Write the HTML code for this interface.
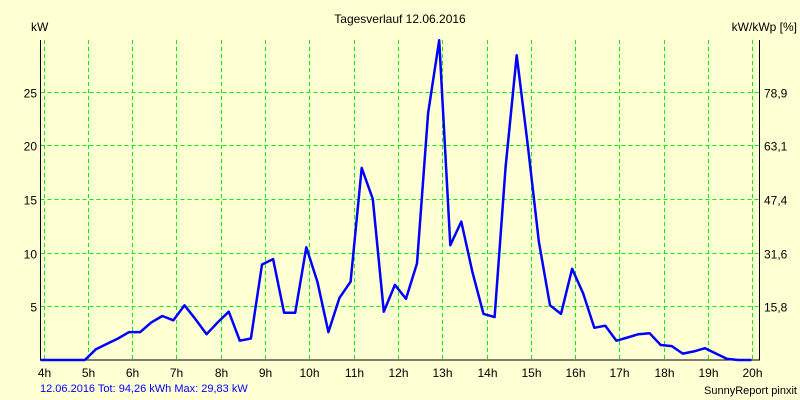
<!DOCTYPE html>
<html><head><meta charset="utf-8"><style>
html,body{margin:0;padding:0;background:#ffffd4;}
svg{display:block;font-family:"Liberation Sans",sans-serif;font-size:12px;}
</style></head><body>
<svg id="chart" width="800" height="400" viewBox="0 0 800 400">
<rect width="800" height="400" fill="#ffffd4"/>
<text x="400" y="23" text-anchor="middle">Tagesverlauf 12.06.2016</text>
<text x="31" y="31">kW</text>
<text x="797" y="31" text-anchor="end">kW/kWp [%]</text>
<g id="grid"></g>
<g id="axes"></g>
<g id="series"></g>
<text x="40" y="392" fill="#0000ff" font-size="11">12.06.2016 Tot: 94,26 kWh Max: 29,83 kW</text>
<text x="797" y="394" text-anchor="end" font-size="11">SunnyReport pinxit</text>
</svg>
<script>
const hourTicks=[4,5,6,7,8,9,10,11,12,13,14,15,16,17,18,19,20];
const kwTicks=[5,10,15,20,25];
const pctLabels=["15,8","31,6","47,4","63,1","78,9"];
const times=[4,4.25,4.5,4.75,5,5.25,5.5,5.75,6,6.25,6.5,6.75,7,7.25,7.5,7.75,8,8.25,8.5,8.75,9,9.25,9.5,9.75,10,10.25,10.5,10.75,11,11.25,11.5,11.75,12,12.25,12.5,12.75,13,13.25,13.5,13.75,14,14.25,14.5,14.75,15,15.25,15.5,15.75,16,16.25,16.5,16.75,17,17.25,17.5,17.75,18,18.25,18.5,18.75,19,19.25,19.5,19.75,20,20.05];
const power=[0,0,0,0,0,1.0,1.5,2.0,2.6,2.6,3.5,4.1,3.7,5.1,3.8,2.4,3.5,4.5,1.8,2.0,8.9,9.4,4.4,4.4,10.5,7.3,2.6,5.8,7.3,17.9,15,4.5,7.0,5.7,9,23,29.8,10.7,12.9,8.2,4.3,4.0,18,28.4,20,11,5.1,4.3,8.5,6.2,3.0,3.2,1.8,2.1,2.4,2.5,1.4,1.3,0.6,0.8,1.1,0.6,0.1,0,0,0];
const NS="http://www.w3.org/2000/svg";
const L=40.5,R=759.5,T=40,B=360;
const xS=h=>43.5+(h-4)*44.3;
const yS=v=>B-v*10.73;
const seriesShift=-3;
function mk(tag,attrs,parent){const e=document.createElementNS(NS,tag);for(const k in attrs)e.setAttribute(k,attrs[k]);parent.appendChild(e);return e;}
const grid=document.getElementById('grid'),axes=document.getElementById('axes'),series=document.getElementById('series');
hourTicks.forEach(h=>{
 const x=Math.round(xS(h))+0.5;
 const l=mk('line',{x1:x,y1:T,x2:x,y2:B,stroke:'#00ee00','stroke-dasharray':'4,3'},grid);
 
 
 const t=mk('text',{x:x,y:377,'text-anchor':'middle'},axes);t.textContent=h+'h';
 
 
});
kwTicks.forEach((v,i)=>{
 const y=Math.round(yS(v))+0.5;
 const l=mk('line',{x1:L,y1:y,x2:R,y2:y,stroke:'#00ee00','stroke-dasharray':'4,3'},grid);
 
 
 const t=mk('text',{x:37,y:y+5,'text-anchor':'end'},axes);t.textContent=v;
 
 
 const t2=mk('text',{x:764,y:y+5},axes);t2.textContent=pctLabels[i];
 
 
});
const ax=mk('path',{d:`M${L} ${T}V${B}H${R}V${T}`,fill:'none',stroke:'#000','stroke-width':1},axes);


const pts=times.map((t,i)=>Math.max(L,xS(t)+seriesShift).toFixed(1)+','+yS(power[i]).toFixed(1)).join(' ');
const pl=mk('polyline',{points:pts,fill:'none',stroke:'#0000ff','stroke-width':2.5,'stroke-linejoin':'round'},series);


</script>
</body></html>
